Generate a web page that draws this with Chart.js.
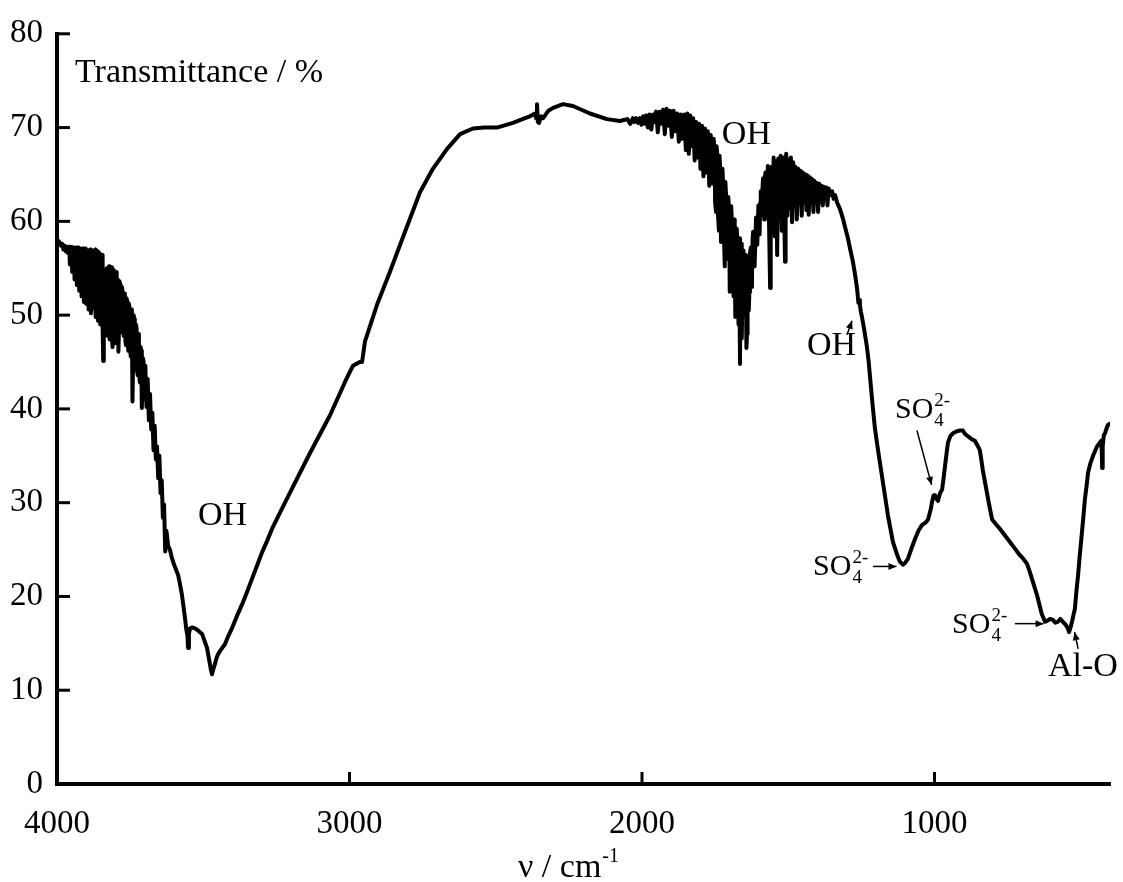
<!DOCTYPE html>
<html><head><meta charset="utf-8">
<style>html,body{margin:0;padding:0;background:#fff;}canvas{display:block;}</style>
<script src="https://cdn.jsdelivr.net/npm/chart.js@4.4.1/dist/chart.umd.min.js"></script>
</head><body>
<canvas id="c" width="1123" height="882"></canvas>
<script>
// ---- data (wavenumber in cm-1, transmittance in %) ----
const seg1Wave = [4000,3995,3990,3986,3982,3978,3974,3970,3966,3962,
3958,3954,3950,3946,3942,3938,3934,3930,3926,3922,
3918,3914,3910,3906,3902,3898,3894,3890,3886,3882,
3878,3874,3870,3866,3862,3858,3854,3850,3846,3842,
3838,3834,3830,3826,3822,3818,3814,3810,3806,3802,
3798,3794,3790,3786,3782,3778,3774,3770,3766,3762,
3758,3754,3750,3746,3742,3738,3734,3730,3726,3722,
3718,3714,3710,3706,3702,3698,3694,3690,3686,3682,
3678,3674,3670,3666,3662,3658,3654,3650,3646,3642,
3638,3634,3630,3626];
const seg1T = [58.0,57.9,57.7,57.4,57.6,57.0,57.4,56.8,57.3,56.6,
57.3,56.0,57.3,55.6,57.2,54.8,57.2,55.0,57.2,53.8,
57.1,53.0,57.1,52.4,57.1,52.0,56.9,51.6,57.0,51.0,
56.8,51.4,57.0,50.6,56.8,50.0,56.6,49.6,56.4,45.1,
54.8,49.0,55.0,48.4,55.2,48.0,55.1,46.6,54.8,48.2,
54.6,48.0,46.1,53.6,49.0,53.0,48.6,52.3,47.2,51.8,
47.0,51.2,46.4,50.6,40.8,50.0,45.0,49.0,44.0,48.0,
43.2,46.6,40.1,45.4,41.5,44.6,40.2,43.2,38.8,41.6,
37.8,39.6,35.6,38.2,34.6,36.0,32.6,35.0,31.0,32.4,
28.4,29.8,24.8,27.0];
// extra readings inside the dense water-vapour band at 3960-3700
const seg1bWave = [3960,3956,3952,3948,3944,3940,3936,3932,3928,3924,
3920,3916,3912,3908,3904,3900,3896,3892,3888,3884,
3880,3876,3872,3868,3864,3860,3856,3852,3848,3844,
3840,3836,3832,3828,3824,3820,3816,3812,3808,3804,
3800,3796,3792,3788,3784,3780,3776,3772,3768,3764,
3760,3756,3752,3748,3744,3740,3736,3732,3728,3724,
3720,3716,3712,3708,3704,3700];
const seg1bT = [57.0,55.4,57.2,54.6,56.8,53.8,57.0,53.2,56.6,52.6,
56.8,52.0,56.6,51.4,56.8,51.2,56.4,50.6,56.6,50.2,
56.4,50.8,56.6,49.8,56.2,49.4,55.8,49.0,55.4,48.6,
54.2,48.2,54.6,47.8,54.8,47.4,54.4,47.6,54.0,47.0,
54.2,47.6,53.8,48.6,53.2,48.2,52.6,47.8,52.0,46.8,
51.4,46.2,50.8,45.6,50.2,44.6,49.6,44.2,48.6,43.6,
47.4,42.8,46.2,42.0,45.0,41.0];

const seg2Wave = [3620,3614,3608,3603,3595,3586,3580,3573,3567,3562,
3558,3554,3552,3549,3545,3537,3528,3515,3504,3495,
3487,3480,3474,3470,3466,3460,3454,3450,3440,3426,
3414,3402,3385,3368,3350,3333,3316,3299,3282,3265,
3235,3203,3135,3067,3015,2995,2988,2965,2957,2947,
2906,2862,2827,2793,2759,2715,2667,2622,2578,2540,
2496,2441,2400,2383,2366,2362,2359,2356,2352,2345,
2338,2320,2304,2270,2236,2178,2120,2075,2050,2040];
const seg2T = [25.4,25.0,24.2,23.7,23.0,22.3,21.4,20.2,18.8,17.6,
16.5,15.8,14.5,16.0,16.6,16.7,16.6,16.3,16.0,15.2,
14.5,13.3,12.2,11.7,12.2,12.8,13.5,13.8,14.3,14.9,
15.8,16.6,17.9,19.1,20.5,21.9,23.3,24.7,25.9,27.2,
29.1,31.1,35.3,39.3,42.9,44.2,44.6,45.0,45.0,47.2,
51.1,54.6,57.5,60.3,63.1,65.6,67.7,69.3,69.9,70.0,
70.0,70.5,71.0,71.2,71.5,71.0,72.5,70.6,70.5,71.2,
71.0,71.8,72.1,72.5,72.3,71.5,70.9,70.7,70.9,70.4];

const seg3Wave = [2031,2026,2020,2014,2007,2002,1996,1990,1985,1980,
1974,1968,1962,1957,1952,1946,1940,1934,1928,1922,
1916,1910,1904,1898,1892,1886,1880,1874,1868,1862,
1856,1850,1845,1840,1835,1830,1825,1820,1815,1810,
1805,1800,1795,1790,1785,1780,1775,1770,1765,1760,
1755,1750,1745,1740,1735,1730,1725,1720,1715,1710,
1705,1700,1695,1690,1685,1681,1676,1672,1668,1665,
1661,1657,1653,1649,1645,1641,1637,1633,1628,1624,
1620,1615,1610,1606,1602,1598,1594,1590,1586,1582,
1578,1574,1570,1566,1562,1558,1554,1550,1546,1542,
1538,1534,1530,1526,1522,1518,1514,1511,1507,1503,
1499,1495,1491,1487,1483,1479,1475,1471,1466,1462,
1458,1454,1450,1446,1442,1438,1434,1430,1426,1422,
1418,1414,1410,1406,1402,1398,1394,1390,1386,1382,
1378,1374,1370,1366,1362,1357,1350,1345,1340,1333];
const seg3T = [71.0,70.6,71.0,70.5,71.0,70.3,71.2,70.4,71.3,70.0,
71.4,69.8,71.4,70.6,71.7,69.5,71.7,70.4,71.9,69.3,
72.0,70.2,71.8,69.0,71.8,69.6,71.5,68.5,71.4,68.8,
71.4,67.6,71.5,67.2,71.3,68.0,71.0,66.5,70.6,66.8,
70.4,65.6,70.2,64.8,69.9,65.2,69.6,63.8,69.2,64.6,
68.8,62.0,68.0,60.6,67.0,57.8,65.6,58.6,64.2,56.6,
62.6,52.5,61.6,55.0,60.2,49.8,59.2,54.0,58.2,44.8,
57.6,51.1,56.9,52.0,56.4,48.0,56.2,52.4,57.2,54.0,
58.9,55.2,60.4,57.5,61.7,58.6,63.2,60.7,64.6,60.2,
65.2,61.0,65.9,60.4,52.9,65.8,59.6,66.8,58.4,66.4,
56.4,66.7,60.2,67.0,59.0,66.6,61.0,55.7,67.2,60.6,
66.6,61.4,66.8,59.9,66.3,61.6,65.8,60.2,65.6,62.0,
65.4,60.6,65.2,62.0,65.0,61.2,64.9,60.7,64.7,62.4,
64.5,61.0,64.3,62.2,64.1,61.0,64.0,62.4,63.8,61.7,
63.7,62.6,63.6,61.7,63.5,62.8,63.2,62.4,62.8,62.0];
// extra readings inside the dense band at 1760-1400
const seg3bWave = [1762,1757,1752,1747,1742,1737,1732,1727,1722,1717,
1712,1707,1702,1697,1692,1687,1683,1678,1674,1670,
1663,1659,1655,1651,1647,1643,1639,1635,1631,1626,
1622,1596,1588,1580,1572,1560,1548,1540,1528,1520,
1509,1497,1489,1477,1468,1460,1448,1440,1428,1420,
1408];
const seg3bT = [67.0,64.0,67.6,61.0,66.8,59.0,65.2,58.0,63.6,55.2,
62.4,56.0,60.8,54.0,59.4,52.0,58.6,50.6,57.8,49.0,
56.8,47.5,56.4,50.0,56.0,46.5,55.6,50.5,56.6,53.0,
58.0,62.0,63.6,64.6,62.4,65.6,62.0,66.2,62.6,66.8,
62.0,66.4,62.8,65.4,62.4,65.4,62.8,64.8,62.6,64.4,
62.8];

const seg4Wave = [1323,1313,1305,1296,1288,1279,1272,1265,1260,1257,
1255,1252,1248,1240,1231,1225,1214,1204,1193,1176,
1159,1142,1125,1118,1108,1100,1091,1080,1067,1055,
1043,1030,1022,1012,1009,1003,998,993,988,981,
974,969,964,959,954,946,937,925,913,903,
895,886,874,862,853,845,840,835,828,821,
812,803,790,776,759,742,725,708,696,684,
675,667,658,650,641,633,622,615,605,595,
587,578,570,561,552,544,540,534,530,525,
520,515,509,503,496,491,486,480,475,467,
458,450,444,435,430,428,427,425,421,417,
412,407,402];
const seg4T = [61.3,60.3,59.3,58.2,57.0,55.7,54.4,52.9,51.3,51.6,
51.1,50.4,49.8,48.4,46.6,45.0,41.2,38.0,35.6,32.1,
28.6,25.8,24.2,23.7,23.4,23.6,24.0,25.0,26.1,27.0,
27.6,27.9,28.2,29.4,30.0,30.8,30.8,30.4,30.2,31.0,
31.4,32.6,33.9,35.2,36.4,37.1,37.4,37.6,37.7,37.7,
37.3,37.1,36.8,36.6,36.1,35.6,34.6,33.5,32.3,31.1,
29.6,28.2,27.7,27.2,26.5,25.8,25.1,24.4,24.0,23.5,
22.7,21.9,21.0,20.2,19.1,18.1,17.3,17.4,17.6,17.5,
17.2,17.3,17.6,17.3,17.0,16.6,16.2,16.8,17.3,18.0,
18.7,20.5,22.3,24.5,26.8,28.5,30.3,31.8,33.2,34.2,
35.0,35.6,36.0,36.4,36.6,35.4,33.7,36.0,37.2,37.4,
37.9,38.3,38.4];

const xTickValues = [4000, 3000, 2000, 1000];
const yTickValues = [0, 10, 20, 30, 40, 50, 60, 70, 80];

// text labels anchored in data coordinates (wavenumber, transmittance)
const labelTexts = ['OH', 'OH', 'OH', 'Al-O'];
const labelWave  = [3518, 1727, 1436, 612];
const labelT     = [27.6, 68.2, 45.7, 11.5];
const so4Wave = [1135, 1415, 940];
const so4T    = [39.0, 22.3, 16.1];
// arrows: [fromWave, fromT, toWave, toT]
const arrows = [
  [1299, 47.9, 1282, 49.4],
  [1060, 37.7, 1010, 31.9],
  [1210, 23.2, 1130, 23.2],
  [725, 17.1, 627, 17.1],
  [509, 14.4, 521, 16.2]
];

// ---- build ----
const waves = [].concat(seg1Wave, seg1bWave, seg2Wave, seg3Wave, seg3bWave, seg4Wave);
const trans = [].concat(seg1T, seg1bT, seg2T, seg3T, seg3bT, seg4T);
const points = waves.map((w, i) => ({x: w, y: trans[i]})).sort((a, b) => b.x - a.x);

const FONT = "'Liberation Serif','Times New Roman',serif";

function arrow(ctx, x1, y1, x2, y2) {
  ctx.beginPath(); ctx.moveTo(x1, y1); ctx.lineTo(x2, y2); ctx.stroke();
  const ang = Math.atan2(y2 - y1, x2 - x1);
  const L = 8, W = 3.5;
  ctx.beginPath();
  ctx.moveTo(x2, y2);
  ctx.lineTo(x2 - L * Math.cos(ang) + W * Math.sin(ang), y2 - L * Math.sin(ang) - W * Math.cos(ang));
  ctx.lineTo(x2 - L * Math.cos(ang) - W * Math.sin(ang), y2 - L * Math.sin(ang) + W * Math.cos(ang));
  ctx.closePath(); ctx.fill();
}

const decor = {
  id: 'decor',
  afterDraw(chart) {
    const {ctx, chartArea: a, scales: {x, y}} = chart;
    ctx.save();
    ctx.strokeStyle = '#000'; ctx.fillStyle = '#000';
    // inward tick marks
    ctx.lineWidth = 3;
    yTickValues.forEach(v => {
      const py = y.getPixelForValue(v);
      ctx.beginPath(); ctx.moveTo(a.left, py); ctx.lineTo(a.left + 13, py); ctx.stroke();
    });
    xTickValues.forEach(v => {
      const px = x.getPixelForValue(v);
      ctx.beginPath(); ctx.moveTo(px, a.bottom); ctx.lineTo(px, a.bottom - 12); ctx.stroke();
    });
    // y title
    ctx.textAlign = 'left'; ctx.textBaseline = 'alphabetic';
    ctx.font = `34px ${FONT}`;
    ctx.fillText('Transmittance / %', a.left + 18, a.top + 48);
    // x title with superscript
    ctx.font = `34px ${FONT}`;
    const main = 'ν / cm';
    const wMain = ctx.measureText(main).width;
    ctx.font = `20px ${FONT}`;
    const wSup = ctx.measureText('-1').width;
    const cx = x.getPixelForValue(2253);
    const left = cx - (wMain + wSup) / 2;
    const base = a.bottom + 93;
    ctx.font = `34px ${FONT}`;
    ctx.fillText(main, left, base);
    ctx.font = `20px ${FONT}`;
    ctx.fillText('-1', left + wMain + 1, base - 15);
    // simple labels
    ctx.font = `34px ${FONT}`;
    labelTexts.forEach((t, i) => {
      ctx.fillText(t, x.getPixelForValue(labelWave[i]), y.getPixelForValue(labelT[i]));
    });
    // SO4 2- labels
    so4Wave.forEach((w, i) => {
      const px = x.getPixelForValue(w), py = y.getPixelForValue(so4T[i]);
      ctx.font = `30px ${FONT}`;
      ctx.fillText('SO', px, py);
      const ws = ctx.measureText('SO').width;
      ctx.font = `19px ${FONT}`;
      ctx.fillText('4', px + ws + 1, py + 8);
      ctx.fillText('2-', px + ws + 1, py - 12);
    });
    // arrows
    ctx.lineWidth = 1.5;
    arrows.forEach(r => {
      arrow(ctx, x.getPixelForValue(r[0]), y.getPixelForValue(r[1]),
                 x.getPixelForValue(r[2]), y.getPixelForValue(r[3]));
    });
    ctx.restore();
  }
};

new Chart(document.getElementById('c'), {
  type: 'line',
  data: { datasets: [{
    data: points,
    borderColor: '#000',
    borderWidth: 4,
    pointRadius: 0,
    tension: 0,
    fill: false,
    borderJoinStyle: 'round',
    borderCapStyle: 'round'
  }]},
  options: {
    responsive: false,
    animation: false,
    devicePixelRatio: 1,
    layout: { padding: { top: 27, right: 13, left: 0, bottom: 0 } },
    plugins: { legend: { display: false }, tooltip: { enabled: false } },
    scales: {
      x: {
        type: 'linear', reverse: true, min: 400, max: 4000,
        afterBuildTicks: s => { s.ticks = xTickValues.map(v => ({value: v})); },
        afterFit: s => { s.height = 98; },
        grid: { display: false, drawTicks: false },
        border: { display: true, width: 4, color: '#000' },
        ticks: { font: { family: FONT, size: 33 }, color: '#000', padding: 21,
                 maxRotation: 0, autoSkip: false, callback: v => String(v) }
      },
      y: {
        type: 'linear', min: 0, max: 80,
        afterBuildTicks: s => { s.ticks = yTickValues.map(v => ({value: v})); },
        afterFit: s => { s.width = 57; },
        grid: { display: false, drawTicks: false },
        border: { display: true, width: 4, color: '#000' },
        ticks: { font: { family: FONT, size: 33 }, color: '#000', padding: 14,
                 autoSkip: false, callback: v => String(v) }
      }
    }
  },
  plugins: [decor]
});
</script>
</body></html>
